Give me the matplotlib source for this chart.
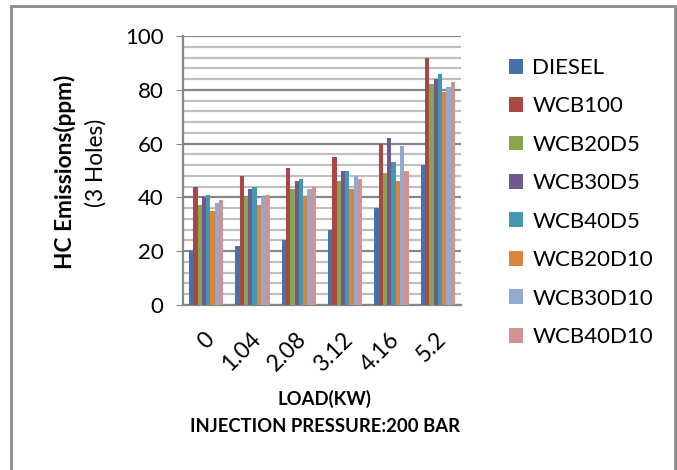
import matplotlib
matplotlib.use('Agg')
import matplotlib.pyplot as plt
import matplotlib.transforms as mtransforms
import numpy as np
from matplotlib.patches import Rectangle

# loads (kW) and HC emissions (ppm) for each fuel blend
loads = ['0', '1.04', '2.08', '3.12', '4.16', '5.2']
diesel = [20, 22, 24, 28, 36, 52]
wcb100 = [44, 48, 51, 55, 60, 92]
wcb20d5 = [37, 40, 43, 46, 49, 82]
wcb30d5 = [40, 43, 46, 50, 62, 84]
wcb40d5 = [41, 44, 47, 50, 53, 86]
wcb20d10 = [35, 37, 40, 43, 46, 79]
wcb30d10 = [38, 40, 43, 48, 59, 81]
wcb40d10 = [39, 41, 44, 47, 50, 83]

names = ['DIESEL', 'WCB100', 'WCB20D5', 'WCB30D5', 'WCB40D5',
         'WCB20D10', 'WCB30D10', 'WCB40D10']
series = [diesel, wcb100, wcb20d5, wcb30d5, wcb40d5, wcb20d10, wcb30d10, wcb40d10]
colors = ['#4572a7', '#aa4643', '#89a54e', '#71588f', '#4198af',
          '#db843d', '#93a9cf', '#d19392']

plt.rcParams['font.family'] = ['Lato', 'DejaVu Sans']

fig = plt.figure(figsize=(6.77, 4.70), dpi=100)
ax = fig.add_axes([183/677, 1-305/470, (461-183)/677, (305-36)/470])

x = np.arange(len(loads))
w = 0.74 / 8
for i, (name, vals) in enumerate(zip(names, series)):
    ax.bar(x - 0.37 + w*(i+0.5), vals, width=w, color=colors[i], label=name, zorder=3)

ax.set_xlim(-0.5, 5.5)
ax.set_ylim(0, 100)
ax.set_yticks([0, 20, 40, 60, 80, 100])
ax.set_yticks(np.arange(0, 101, 4), minor=True)
ax.grid(axis='y', which='major', color='#868686', linewidth=1.6, zorder=0)
ax.grid(axis='y', which='minor', color='#bfbfbf', linewidth=1.6, zorder=0)
ax.tick_params(axis='y', which='minor', length=0)
ax.tick_params(axis='y', which='major', length=5, color='#868686', labelsize=16, pad=9)
ax.tick_params(axis='x', length=0, labelsize=16.5, pad=17)
ax.set_xticks(x)
ax.set_xticklabels(loads, rotation=45, ha='right', va='top', rotation_mode='anchor')
shift = mtransforms.ScaledTranslation(-3/100, 0, fig.dpi_scale_trans)
for lab in ax.get_xticklabels():
    lab.set_transform(lab.get_transform() + shift)
for s in ['top', 'right']:
    ax.spines[s].set_visible(False)
ax.spines['left'].set_color('#868686')
ax.spines['bottom'].set_color('#868686')
ax.spines['left'].set_linewidth(1.6)
ax.spines['bottom'].set_linewidth(1.6)

fig.text(65/677, 1-172/470, 'HC Emissions(ppm)', rotation=90, fontsize=16.3,
         fontweight='bold', ha='center', va='center')
fig.text(96/677, 1-163/470, '(3 Holes)', rotation=90, fontsize=16.3,
         ha='center', va='center')
fig.text(324/677, 1-399/470, 'LOAD(KW)', fontsize=13.3, fontweight='bold',
         ha='center', va='center')
fig.text(325/677, 1-427/470, 'INJECTION PRESSURE:200 BAR', fontsize=13.3,
         fontweight='bold', ha='center', va='center')

ax.legend(loc='upper left', bbox_to_anchor=(500/677, 1-49/470),
          bbox_transform=fig.transFigure, frameon=False, fontsize=16,
          handlelength=0.65, handleheight=0.65, handletextpad=0.4,
          labelspacing=0.83, borderaxespad=0)

fig.patches.append(Rectangle((11/677, -0.1), (675-11)/677, 1.1-6/470,
                             transform=fig.transFigure, fill=False,
                             edgecolor='#8c8c8c', linewidth=2))

fig.savefig('out.png', dpi=100)
